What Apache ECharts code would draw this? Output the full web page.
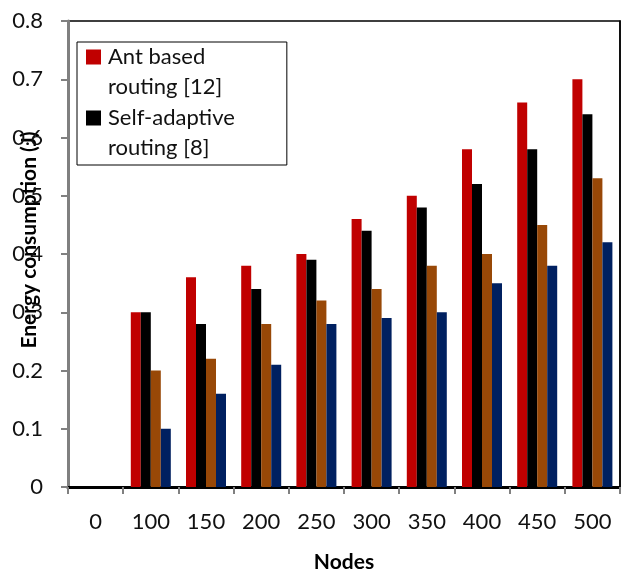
<!DOCTYPE html>
<html><head><meta charset="utf-8">
<script src="https://cdn.jsdelivr.net/npm/echarts@6/dist/echarts.min.js"></script>
<style>html,body{margin:0;padding:0;background:#fff}#c{width:621px;height:572px}</style>
</head><body><div id="c"></div>
<script>
const categories = ['0','100','150','200','250','300','350','400','450','500'];
const antBased = [null,0.30,0.36,0.38,0.40,0.46,0.50,0.58,0.66,0.70];
const selfAdaptive = [null,0.30,0.28,0.34,0.39,0.44,0.48,0.52,0.58,0.64];
const series3 = [null,0.20,0.22,0.28,0.32,0.34,0.38,0.40,0.45,0.53];
const series4 = [null,0.10,0.16,0.21,0.28,0.29,0.30,0.35,0.38,0.42];
const seriesNames = ['Ant based\nrouting [12]','Self-adaptive\nrouting [8]','Series 3','Series 4'];
const colors = ['#C00000','#000000','#984807','#002060'];

const chart = echarts.init(document.getElementById('c'));
const font = 'Lato, "Open Sans", sans-serif';
const mk = (name, data, color) => ({
  name, type:'bar', data, barWidth:10, barGap:'0%',
  itemStyle:{color}, xAxisIndex:0, yAxisIndex:0
});
chart.setOption({
  animation:false,
  textStyle:{fontFamily:font},
  grid:{left:68,right:1,top:21,bottom:85,containLabel:false,outerBoundsMode:'none',
    show:true,borderColor:'#000',borderWidth:1.5,backgroundColor:'transparent'},
  legend:{
    data:[seriesNames[0],seriesNames[1]],
    orient:'vertical', left:77, top:42,
    icon:'path://M0 7.5H15V22.5H0Z M0 0H0.05V0.05H0Z M0 59.95H0.05V60H0Z',
    itemWidth:15, itemHeight:60, itemGap:1,
    padding:[0,52,2,9],
    backgroundColor:'#fff', borderColor:'#000', borderWidth:1, borderRadius:0,
    textStyle:{fontFamily:font,fontSize:22,lineHeight:30,color:'#111',padding:[0,0,0,2]}
  },
  xAxis:[{
    type:'category', data:categories, boundaryGap:true,
    name:'Nodes', nameLocation:'middle', nameGap:65, nameMoveOverlap:false,
    nameTextStyle:{fontFamily:font,fontSize:21,fontWeight:'bold',color:'#000'},
    axisLine:{show:true,lineStyle:{color:'#808080',width:3}},
    axisTick:{show:true,length:7,lineStyle:{color:'#808080',width:2}},
    axisLabel:{margin:24,fontSize:22,color:'#111',fontFamily:font,interval:0},
    splitLine:{show:false}
  },{
    type:'value', min:0, max:1, position:'top',
    axisLine:{show:true,lineStyle:{color:'#000',width:3}},
    axisTick:{show:false}, axisLabel:{show:false}, splitLine:{show:false}
  }],
  yAxis:[{
    type:'value', min:0, max:0.8, interval:0.1,
    name:'Energy consumption (J)', nameLocation:'middle', nameGap:28, nameMoveOverlap:false,
    nameTextStyle:{fontFamily:font,fontSize:21,fontWeight:'bold',color:'#000',padding:[0,0,0,28]},
    axisLine:{show:true,lineStyle:{color:'#808080',width:3}},
    axisTick:{show:true,length:7,lineStyle:{color:'#808080',width:2}},
    axisLabel:{margin:25,fontSize:22,color:'#111',fontFamily:font,
      formatter:v=>Number(v.toFixed(1)).toString()},
    splitLine:{show:false}
  },{
    type:'value', min:0, max:0.8, interval:0.1, position:'right',
    axisLine:{show:true,lineStyle:{color:'#000',width:1.5}},
    axisTick:{show:false}, axisLabel:{show:false}, splitLine:{show:false}
  }],
  series:[
    mk(seriesNames[0],antBased,colors[0]),
    mk(seriesNames[1],selfAdaptive,colors[1]),
    mk(seriesNames[2],series3,colors[2]),
    mk(seriesNames[3],series4,colors[3]),
    {name:'frame',type:'scatter',data:[],xAxisIndex:1,yAxisIndex:1,silent:true}
  ]
});
</script></body></html>
